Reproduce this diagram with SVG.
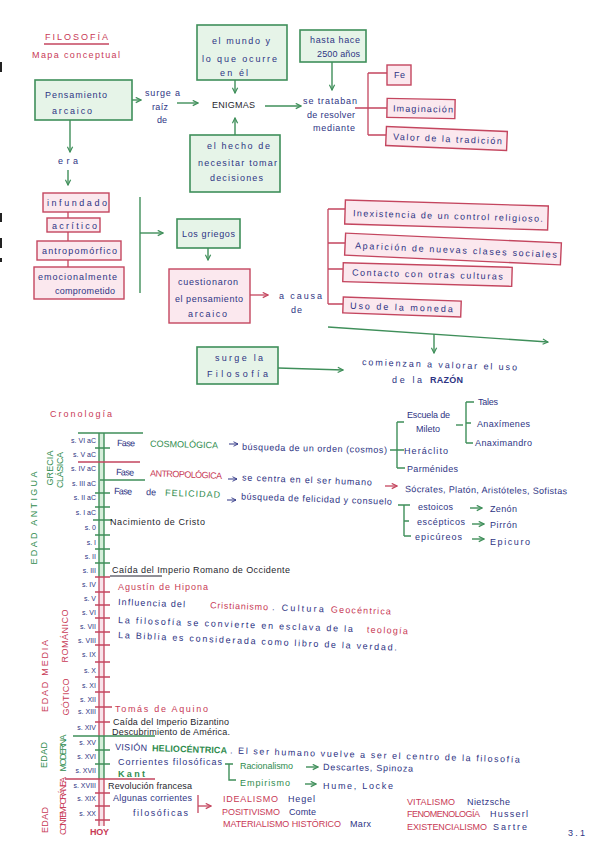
<svg xmlns="http://www.w3.org/2000/svg" width="601" height="848" viewBox="0 0 601 848">
<defs>
<style>
text{font-family:"Liberation Sans",Arial,sans-serif;font-size:9px}
.b{fill:#2e3484}.r{fill:#c83a56}.g{fill:#2f8c4e}.k{fill:#1f1f2e}
.gb{fill:#e6f4e8;stroke:#3f8f5a;stroke-width:1.6}
.rb{fill:#fbe8ee;stroke:#c4465f;stroke-width:1.4}
.gl{stroke:#3f8f5a;stroke-width:1.4;fill:none}
.rl{stroke:#c4465f;stroke-width:1.3;fill:none}
.bl{stroke:#2e3484;stroke-width:1;fill:none}
.kl{stroke:#1f1f2e;stroke-width:1;fill:none}
.ga{marker-end:url(#ag)}
.ra{marker-end:url(#ar)}
.ba{marker-end:url(#ab)}
.v{dominant-baseline:central;text-anchor:middle}
.c{text-anchor:end;font-size:7px}
</style>
<marker id="ag" viewBox="0 0 8 8" refX="7" refY="4" markerWidth="7" markerHeight="7" orient="auto" markerUnits="userSpaceOnUse"><path d="M1,1 L7,4 L1,7" fill="none" stroke="#3f8f5a" stroke-width="1.4"/></marker>
<marker id="ar" viewBox="0 0 8 8" refX="7" refY="4" markerWidth="7" markerHeight="7" orient="auto" markerUnits="userSpaceOnUse"><path d="M1,1 L7,4 L1,7" fill="none" stroke="#c4465f" stroke-width="1.3"/></marker>
<marker id="ab" viewBox="0 0 8 8" refX="7" refY="4" markerWidth="6" markerHeight="6" orient="auto" markerUnits="userSpaceOnUse"><path d="M1,1 L7,4 L1,7" fill="none" stroke="#2e3484" stroke-width="1.2"/></marker>
</defs>
<rect width="601" height="848" fill="#ffffff"/>
<g id="scan-marks" fill="#222">
<rect x="0" y="62" width="2" height="10"/><rect x="0" y="213" width="2" height="9"/><rect x="0" y="238" width="2" height="10"/><rect x="0" y="258" width="2" height="4"/>
</g>

<g id="title">
<text class="r" x="45" y="40" font-size="10" textLength="63">FILOSOFÍA</text>
<line class="rl" x1="44" y1="44" x2="109" y2="44"/>
<text class="r" x="32" y="58" textLength="88">Mapa conceptual</text>
</g>

<g id="connectors">
<line class="gl ga" x1="132" y1="100" x2="141" y2="100"/>
<line class="gl ga" x1="177" y1="103" x2="198" y2="103"/>
<line class="gl ga" x1="265" y1="106" x2="301" y2="106"/>
<line class="gl ga" x1="235" y1="80" x2="235" y2="93"/>
<line class="gl ga" x1="235" y1="135" x2="235" y2="118"/>
<line class="gl ga" x1="332" y1="62" x2="332" y2="90"/>
<path class="rl" d="M355,108 H368 M368,73 V135 M368,73 H387 M368,108 H387 M368,135 H386"/>
<line class="gl ga" x1="70" y1="120" x2="70" y2="152"/>
<line class="gl ga" x1="68" y1="170" x2="68" y2="185"/>
<line class="rl" x1="68" y1="212" x2="68" y2="267"/>
<line class="gl" x1="140" y1="197" x2="140" y2="293"/>
<line class="gl ga" x1="140" y1="233" x2="163" y2="233"/>
<line class="gl ga" x1="208" y1="248" x2="208" y2="260"/>
<line class="rl ra" x1="250" y1="295" x2="268" y2="295"/>
<path class="rl" d="M328,209 V304 M328,209 H345 M328,243 H345 M328,269 H343 M328,304 H343"/>
<line class="gl ga" x1="328" y1="327" x2="548" y2="342"/>
<line class="gl ga" x1="434" y1="334" x2="434" y2="353"/>
<line class="gl ga" x1="278" y1="368" x2="343" y2="370"/>
<line class="bl ba" x1="229" y1="444" x2="238" y2="444"/>
<path class="gl" d="M390,450 H404 M397,422 V468 M397,422 H404 M397,468 H405"/>
<line class="gl" x1="456" y1="425" x2="463" y2="425"/>
<path class="gl" d="M466,402 V443 M466,402 H474 M466,423 H471 M466,443 H473"/>
<line class="bl ba" x1="228" y1="479" x2="237" y2="479"/>
<line class="rl ra" x1="385" y1="486" x2="397" y2="486"/>
<line class="bl ba" x1="227" y1="500" x2="236" y2="500"/>
<path class="gl" d="M398,505 H410 M404,505 V536 M404,521 H409 M404,536 H411"/>
<line class="gl ga" x1="470" y1="508" x2="482" y2="508"/>
<line class="gl ga" x1="472" y1="524" x2="484" y2="524"/>
<line class="gl ga" x1="472" y1="539" x2="484" y2="539"/>
<path class="gl" d="M225,764 H233 M229,764 V780 H236"/>
<line class="gl ga" x1="306" y1="767" x2="318" y2="767"/>
<line class="gl ga" x1="305" y1="784" x2="316" y2="784"/>
<path class="rl" d="M198,795 V813"/>
<line class="rl ra" x1="198" y1="806" x2="211" y2="806"/>
</g>

<g id="n-pensamiento">
<rect class="gb" x="35" y="80" width="97" height="40"/>
<text class="b" x="45" y="98" textLength="62">Pensamiento</text>
<text class="b" x="52" y="114" textLength="40">arcaico</text>
</g>
<g id="t-surge-a-raiz">
<text class="b" x="145" y="96" textLength="35">surge a</text>
<text class="b" x="152" y="110" textLength="16">raíz</text>
<text class="b" x="157" y="123" textLength="10">de</text>
</g>
<g id="n-enigmas"><text class="k" x="212" y="108" textLength="43">ENIGMAS</text></g>
<g id="n-mundo">
<rect class="gb" x="197" y="25" width="90" height="55"/>
<text class="b" x="212" y="44" textLength="58">el mundo y</text>
<text class="b" x="202" y="62" textLength="75">lo que ocurre</text>
<text class="b" x="220" y="76" textLength="28">en él</text>
</g>
<g id="n-hecho">
<rect class="gb" x="190" y="135" width="90" height="57"/>
<text class="b" x="207" y="149" textLength="63">el hecho de</text>
<text class="b" x="198" y="166" textLength="79">necesitar tomar</text>
<text class="b" x="210" y="181" textLength="53">decisiones</text>
</g>
<g id="n-hasta">
<rect class="gb" x="300" y="30" width="66" height="32"/>
<text class="b" x="310" y="43" textLength="50">hasta hace</text>
<text class="b" x="317" y="57" textLength="43">2500 años</text>
</g>
<g id="t-se-trataban">
<text class="b" x="303" y="104" textLength="54">se trataban</text>
<text class="b" x="307" y="118" textLength="48">de resolver</text>
<text class="b" x="313" y="131" textLength="42">mediante</text>
</g>
<g id="n-fe"><rect class="rb" x="387" y="65" width="24" height="20"/><text class="b" x="394" y="78" textLength="11">Fe</text></g>
<g id="n-imaginacion" transform="rotate(1 421 108)"><rect class="rb" x="387" y="99" width="68" height="19"/><text class="b" x="393" y="112" textLength="60">Imaginación</text></g>
<g id="n-tradicion" transform="rotate(2.4 446.5 138.5)"><rect class="rb" x="386" y="129" width="121" height="19"/><text class="b" x="393" y="142" textLength="109">Valor de la tradición</text></g>

<g id="t-era"><text class="b" x="58" y="164" textLength="20">era</text></g>
<g id="n-infundado"><rect class="rb" x="43" y="193" width="66" height="19"/><text class="b" x="47" y="206" textLength="60">infundado</text></g>
<g id="n-acritico"><rect class="rb" x="47" y="218" width="53" height="14"/><text class="b" x="52" y="229" textLength="45">acrítico</text></g>
<g id="n-antropomorfico"><rect class="rb" x="37" y="241" width="84" height="19"/><text class="b" x="42" y="254" textLength="75">antropomórfico</text></g>
<g id="n-emocional"><rect class="rb" x="34" y="267" width="90" height="32"/><text class="b" x="38" y="280" textLength="79">emocionalmente</text><text class="b" x="55" y="294" textLength="60">comprometido</text></g>
<g id="n-griegos"><rect class="gb" x="177" y="219" width="63" height="29"/><text class="b" x="182" y="237" textLength="53">Los griegos</text></g>
<g id="n-cuestionaron"><rect class="rb" x="169" y="269" width="81" height="54"/>
<text class="b" x="178" y="285" textLength="60">cuestionaron</text>
<text class="b" x="175" y="302" textLength="68">el pensamiento</text>
<text class="b" x="188" y="317" textLength="39">arcaico</text></g>
<g id="t-a-causa"><text class="b" x="279" y="299" textLength="43">a causa</text><text class="b" x="291" y="313" textLength="11">de</text></g>
<g id="n-inexistencia" transform="rotate(1.7 446 215)"><rect class="rb" x="345" y="203" width="203" height="24"/><text class="b" x="353" y="219" font-size="9.5" textLength="190">Inexistencia de un control religioso.</text></g>
<g id="n-aparicion" transform="rotate(2.6 453 249)"><rect class="rb" x="345" y="238" width="216" height="22"/><text class="b" x="355" y="253" font-size="9.5" textLength="202">Aparición de nuevas clases sociales</text></g>
<g id="n-contacto" transform="rotate(1.6 427 274)"><rect class="rb" x="343" y="265" width="169" height="19"/><text class="b" x="352" y="277.5" font-size="9.5" textLength="151">Contacto con otras culturas</text></g>
<g id="n-moneda" transform="rotate(2 402 307)"><rect class="rb" x="343" y="299" width="118" height="16"/><text class="b" x="350" y="310.5" font-size="9.5" textLength="103">Uso de la moneda</text></g>
<g id="n-surge-filosofia"><rect class="gb" x="197" y="347" width="81" height="37"/>
<text class="b" x="215" y="361" textLength="48">surge la</text>
<text class="b" x="207" y="377" textLength="61">Filosofía</text></g>
<g id="t-razon">
<text class="b" x="362" y="365" textLength="155" transform="rotate(2 362 365)">comienzan a valorar el uso</text>
<text class="b" x="392" y="383" textLength="30">de la</text>
<text class="b" x="430" y="383" font-weight="bold" textLength="33">RAZÓN</text>
</g>

<g id="t-cronologia"><text class="r" x="50" y="417" font-size="11" textLength="62">Cronología</text></g>

<g id="timeline-axis">
<rect x="99" y="433" width="5" height="144" fill="#d7eedb"/>
<rect x="99" y="577" width="5" height="159" fill="#f8e4ea"/>
<rect x="99" y="736" width="5" height="43" fill="#d7eedb"/>
<rect x="99" y="779" width="5" height="47" fill="#f8e4ea"/>
<path class="gl" d="M99,433 V577 M104,433 V577 M99,736 V779 M104,736 V779"/>
<path class="rl" d="M99,577 V736 M104,577 V736 M99,779 V826 M104,779 V826"/>
<path class="gl" d="M78,433 H143 M100,480 H145 M95,448 H110 M95,493 H110 M95,507 H110 M93,520 H112 M95,535 H110 M95,549 H110 M95,563 H110 M73,736 H155 M95,750 H110 M95,764 H110"/>
<path class="rl" d="M78,462 H140 M95,577 H110 M95,592 H110 M95,605 H110 M95,618 H110 M95,632 H110 M95,645 H110 M95,662 H110 M95,677 H110 M95,692 H110 M95,707 H112 M95,722 H110 M65,779 H155 M95,793 H110 M95,806 H110 M95,820 H110"/>
<line class="kl" x1="110" y1="576" x2="162" y2="576"/>
</g>

<g id="centuries">
<text class="b c" x="96" y="442.5">s. VI aC</text>
<text class="b c" x="96" y="456.5">s. V aC</text>
<text class="b c" x="96" y="470.5">s. IV aC</text>
<text class="b c" x="96" y="485.5">s. III aC</text>
<text class="b c" x="96" y="499.5">s. II aC</text>
<text class="b c" x="96" y="514.5">s. I aC</text>
<text class="b c" x="96" y="529.5">s. 0</text>
<text class="b c" x="96" y="544.5">s. I</text>
<text class="b c" x="96" y="558.5">s. II</text>
<text class="b c" x="96" y="572.5">s. III</text>
<text class="b c" x="96" y="586.5">s. IV</text>
<text class="b c" x="96" y="600.5">s. V</text>
<text class="b c" x="96" y="614.5">s. VI</text>
<text class="b c" x="96" y="628.5">s. VII</text>
<text class="b c" x="96" y="642.5">s. VIII</text>
<text class="b c" x="96" y="656.5">s. IX</text>
<text class="b c" x="96" y="672.5">s. X</text>
<text class="b c" x="96" y="687.5">s. XI</text>
<text class="b c" x="96" y="701.5">s. XII</text>
<text class="b c" x="96" y="713.5">s. XIII</text>
<text class="b c" x="96" y="729.5">s. XIV</text>
<text class="b c" x="96" y="744.5">s. XV</text>
<text class="b c" x="96" y="758.5">s. XVI</text>
<text class="b c" x="96" y="772.5">s. XVII</text>
<text class="b c" x="96" y="787.5">s. XVIII</text>
<text class="b c" x="96" y="800.5">s. XIX</text>
<text class="b c" x="96" y="815.5">s. XX</text>
<text class="r" x="90" y="835" font-size="8" font-weight="bold" textLength="19">HOY</text>
</g>

<g id="eras">
<text class="g v" x="34" y="518" font-size="8" textLength="93" transform="rotate(-90 34 518)">EDAD ANTIGUA</text>
<text class="g v" x="50" y="468" font-size="6.5" textLength="35" transform="rotate(-90 50 468)">GRECIA</text>
<text class="g v" x="60" y="470" font-size="6.5" textLength="36" transform="rotate(-90 60 470)">CLÁSICA</text>
<text class="r v" x="45" y="676" font-size="8" textLength="72" transform="rotate(-90 45 676)">EDAD MEDIA</text>
<text class="r v" x="65" y="636" font-size="7" textLength="53" transform="rotate(-90 65 636)">ROMÁNICO</text>
<text class="r v" x="66" y="697" font-size="7" textLength="37" transform="rotate(-90 66 697)">GÓTICO</text>
<text class="g v" x="44" y="755" font-size="8.5" textLength="26" transform="rotate(-90 44 755)">EDAD</text>
<text class="g v" x="63" y="753" font-size="6" textLength="37" transform="rotate(-90 63 753)">MODERNA</text>
<text class="r v" x="45" y="820" font-size="8.5" textLength="26" transform="rotate(-90 45 820)">EDAD</text>
<text class="r v" x="63" y="806" font-size="5.5" textLength="58" transform="rotate(-90 63 806)">CONTEMPORÁNEA</text>
</g>

<g id="fase-cosmologica" transform="rotate(1.3 118 446)">
<text class="b" x="117" y="446" font-size="8" textLength="18">Fase</text>
<text class="g" x="150" y="446" font-size="8.5" textLength="68">COSMOLÓGICA</text>
<text class="b" x="242" y="447" font-size="8" textLength="145">búsqueda de un orden (cosmos)</text>
</g>
<g id="n-mileto"><text class="b" x="407" y="418" font-size="8" textLength="43">Escuela de</text><text class="b" x="416" y="432" font-size="8" textLength="24">Mileto</text></g>
<g id="n-tales"><text class="b" x="478" y="405" font-size="8" textLength="20">Tales</text></g>
<g id="n-anaximenes"><text class="b" x="477" y="427" font-size="8" textLength="53">Anaxímenes</text></g>
<g id="n-anaximandro"><text class="b" x="475" y="446" font-size="8" textLength="57">Anaximandro</text></g>
<g id="n-heraclito"><text class="b" x="404" y="454" font-size="8" textLength="44">Heráclito</text></g>
<g id="n-parmenides"><text class="b" x="407" y="472" font-size="8" textLength="51">Parménides</text></g>

<g id="fase-antropologica" transform="rotate(2.1 117 475)">
<text class="b" x="116" y="475" font-size="8" textLength="18">Fase</text>
<text class="r" x="150" y="475" font-size="8.5" textLength="72">ANTROPOLÓGICA</text>
<text class="b" x="242" y="476" font-size="8" textLength="130">se centra en el ser humano</text>
</g>
<g id="n-socrates"><text class="b" x="405" y="492" font-size="8.5" textLength="162" transform="rotate(0.8 405 492)">Sócrates, Platón, Aristóteles, Sofistas</text></g>

<g id="fase-felicidad" transform="rotate(2 115 494)">
<text class="b" x="114" y="494" font-size="8" textLength="18">Fase</text>
<text class="b" x="146" y="494" font-size="8" textLength="10">de</text>
<text class="g" x="165" y="494" font-size="8.5" textLength="55">FELICIDAD</text>
<text class="b" x="241" y="495" font-size="8" textLength="151">búsqueda de felicidad y consuelo</text>
</g>
<g id="n-estoicos"><text class="b" x="418" y="510" font-size="8" textLength="35">estoicos</text><text class="b" x="490" y="512" font-size="8" textLength="27">Zenón</text></g>
<g id="n-escepticos"><text class="b" x="417" y="525" font-size="8" textLength="48">escépticos</text><text class="b" x="490" y="528" font-size="8" textLength="27">Pirrón</text></g>
<g id="n-epicureos"><text class="b" x="415" y="540" font-size="8" textLength="47">epicúreos</text><text class="b" x="490" y="545" font-size="8" textLength="40">Epicuro</text></g>

<g id="ev-cristo"><text class="k" x="110" y="525" font-size="8" textLength="95">Nacimiento de Cristo</text></g>
<g id="ev-roma"><text class="k" x="112" y="573" font-size="8" textLength="178">Caída del Imperio Romano de Occidente</text></g>
<g id="ev-agustin"><text class="r" x="118" y="590" textLength="90">Agustín de Hipona</text></g>
<g id="ev-cristianismo" transform="rotate(2 118 605)">
<text class="b" x="118" y="605" textLength="67">Influencia del</text>
<text class="r" x="210" y="605" textLength="58">Cristianismo</text>
<text class="b" x="272" y="605" textLength="52">. Cultura</text>
<text class="r" x="331" y="605" textLength="60">Geocéntrica</text>
</g>
<g id="ev-teologia" transform="rotate(2.2 118 623)">
<text class="b" x="118" y="623" textLength="235">La filosofía se convierte en esclava de la</text>
<text class="r" x="367" y="623" textLength="41">teología</text>
</g>
<g id="ev-biblia"><text class="b" x="118" y="638" textLength="279" transform="rotate(2.6 118 638)">La Biblia es considerada como libro de la verdad.</text></g>
<g id="ev-tomas"><text class="r" x="115" y="712" font-size="10" textLength="93">Tomás de Aquino</text></g>
<g id="ev-bizancio"><text class="k" x="113" y="725" font-size="7.5" textLength="116">Caída del Imperio Bizantino</text><text class="k" x="112" y="735" font-size="7.5" textLength="118">Descubrimiento de América.</text></g>
<g id="ev-vision" transform="rotate(1.8 115 750)">
<text class="b" x="115" y="750" font-size="8.5" textLength="32">VISIÓN</text>
<text class="g" x="152" y="750" font-size="8.5" font-weight="bold" textLength="75">HELIOCÉNTRICA</text>
<text class="b" x="230" y="750" font-size="8.5" textLength="290">. El ser humano vuelve a ser el centro de la filosofía</text>
</g>
<g id="ev-corrientes"><text class="b" x="118" y="765" textLength="104">Corrientes filosóficas</text><text class="g" x="118" y="777" font-weight="bold" textLength="27">Kant</text></g>
<g id="n-racionalismo"><text class="g" x="240" y="769" font-size="8.5" textLength="53">Racionalismo</text><text class="b" x="323" y="770" font-size="8.5" textLength="90" transform="rotate(1 323 770)">Descartes, Spinoza</text></g>
<g id="n-empirismo"><text class="g" x="240" y="786" font-size="8.5" textLength="50">Empirismo</text><text class="b" x="323" y="789" font-size="8.5" textLength="70">Hume, Locke</text></g>
<g id="ev-revolucion"><text class="k" x="108" y="789" font-size="7.5" textLength="84">Revolución francesa</text></g>
<g id="ev-algunas"><text class="b" x="113" y="801" font-size="8.5" textLength="79">Algunas corrientes</text><text class="b" x="133" y="816" font-size="8.5" textLength="55">filosóficas</text></g>
<g id="n-idealismo"><text class="r" x="223" y="802" font-size="7.5" textLength="55">IDEALISMO</text><text class="b" x="288" y="802" font-size="8" textLength="27">Hegel</text></g>
<g id="n-positivismo"><text class="r" x="222" y="815" font-size="7.5" textLength="58">POSITIVISMO</text><text class="b" x="289" y="815" font-size="8" textLength="27">Comte</text></g>
<g id="n-materialismo"><text class="r" x="223" y="827" font-size="7.5" textLength="118">MATERIALISMO HISTÓRICO</text><text class="b" x="350" y="827" font-size="8" textLength="21">Marx</text></g>
<g id="n-vitalismo"><text class="r" x="407" y="805" font-size="7.5" textLength="48">VITALISMO</text><text class="b" x="467" y="805" font-size="8" textLength="43">Nietzsche</text></g>
<g id="n-fenomenologia"><text class="r" x="407" y="817" font-size="7.5" textLength="73">FENOMENOLOGÍA</text><text class="b" x="490" y="817" font-size="8" textLength="38">Husserl</text></g>
<g id="n-existencialismo"><text class="r" x="407" y="830" font-size="7.5" textLength="80">EXISTENCIALISMO</text><text class="b" x="493" y="830" font-size="8" textLength="34">Sartre</text></g>
<g id="page-number"><text class="b" x="568" y="836" font-size="10" textLength="17">3.1</text></g>
</svg>
